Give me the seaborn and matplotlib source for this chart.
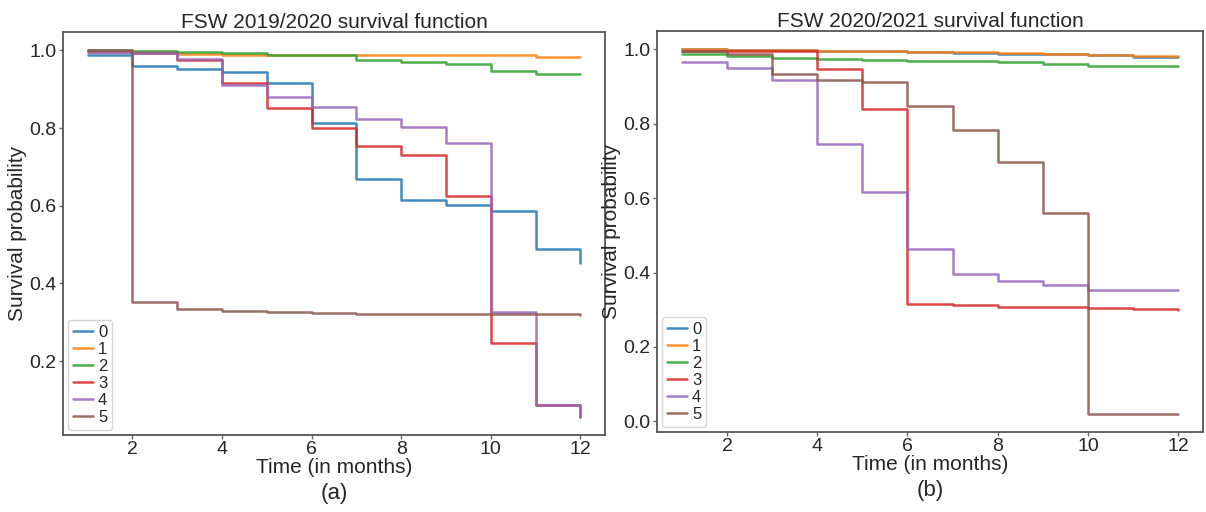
import numpy as np
import pandas as pd
import matplotlib
matplotlib.use("Agg")
import matplotlib.pyplot as plt
import seaborn as sns

# meses y grupos
months = [1, 2, 3, 4, 5, 6, 7, 8, 9, 10, 11, 12]
groups = ["0", "1", "2", "3", "4", "5"]

# FSW 2019/2020 (a)
a_g0 = [0.987, 0.959, 0.953, 0.944, 0.915, 0.813, 0.670, 0.615, 0.603, 0.587, 0.488, 0.452]
a_g1 = [0.998, 0.995, 0.990, 0.988, 0.987, 0.987, 0.987, 0.987, 0.987, 0.987, 0.983, 0.983]
a_g2 = [1.000, 0.998, 0.995, 0.992, 0.987, 0.987, 0.976, 0.971, 0.966, 0.947, 0.939, 0.939]
a_g3 = [0.996, 0.993, 0.976, 0.917, 0.851, 0.800, 0.755, 0.730, 0.625, 0.246, 0.087, 0.057]
a_g4 = [0.995, 0.993, 0.977, 0.912, 0.880, 0.854, 0.823, 0.803, 0.762, 0.326, 0.087, 0.057]
a_g5 = [1.000, 0.352, 0.335, 0.329, 0.326, 0.323, 0.321, 0.321, 0.321, 0.321, 0.321, 0.320]

# FSW 2020/2021 (b)
b_g0 = [1.000, 0.999, 0.998, 0.997, 0.996, 0.993, 0.991, 0.989, 0.987, 0.985, 0.979, 0.979]
b_g1 = [1.000, 0.999, 0.998, 0.997, 0.996, 0.993, 0.992, 0.990, 0.988, 0.986, 0.983, 0.983]
b_g2 = [0.987, 0.982, 0.976, 0.974, 0.972, 0.969, 0.968, 0.965, 0.962, 0.955, 0.955, 0.955]
b_g3 = [0.997, 0.997, 0.996, 0.948, 0.839, 0.315, 0.312, 0.308, 0.307, 0.305, 0.301, 0.300]
b_g4 = [0.965, 0.951, 0.919, 0.746, 0.617, 0.463, 0.396, 0.377, 0.366, 0.354, 0.354, 0.354]
b_g5 = [0.995, 0.988, 0.935, 0.919, 0.912, 0.848, 0.783, 0.698, 0.560, 0.020, 0.020, 0.020]


def armar_df(series):
    filas = []
    for g, vals in zip(groups, series):
        for t, v in zip(months, vals):
            filas.append({"time": t, "surv": v, "group": g})
    return pd.DataFrame(filas)


df_a = armar_df([a_g0, a_g1, a_g2, a_g3, a_g4, a_g5])
df_b = armar_df([b_g0, b_g1, b_g2, b_g3, b_g4, b_g5])

sns.set_style("white")
plt.rcParams["font.family"] = ["Liberation Sans", "DejaVu Sans"]

fig = plt.figure(figsize=(12.06, 5.12), dpi=100)
ax1 = fig.add_axes([0.0522, 0.1504, 0.4494, 0.787])
ax2 = fig.add_axes([0.5448, 0.156, 0.4527, 0.783])

paneles = [(ax1, df_a, "FSW 2019/2020 survival function", "(a)"),
           (ax2, df_b, "FSW 2020/2021 survival function", "(b)")]

for ax, df, titulo, letra in paneles:
    sns.lineplot(data=df, x="time", y="surv", hue="group", hue_order=groups,
                 palette="tab10", drawstyle="steps-post", linewidth=1.8,
                 alpha=0.85, ax=ax)
    ax.set_title(titulo, fontsize=15, pad=3)
    ax.set_xlabel("Time (in months)", fontsize=15, labelpad=0)
    ax.set_ylabel("Survival probability", fontsize=15, labelpad=2)
    ax.set_xticks([2, 4, 6, 8, 10, 12])
    ax.tick_params(axis="both", labelsize=14, length=3, width=1, color="#666666",
                   direction="out", pad=1.5, bottom=True, left=True)
    for sp in ax.spines.values():
        sp.set_color("#555555")
        sp.set_linewidth(1.3)
    sns.move_legend(ax, "lower left", title=None, fontsize=12, frameon=True,
                    handlelength=1.2, handletextpad=0.3, labelspacing=0.12,
                    borderpad=0.3, borderaxespad=0.3)
    # etiqueta del panel debajo del eje x
    ax.text(0.5, -0.145, letra, transform=ax.transAxes, ha="center", va="center",
            fontsize=16)

fig.savefig("out.png", dpi=100)
